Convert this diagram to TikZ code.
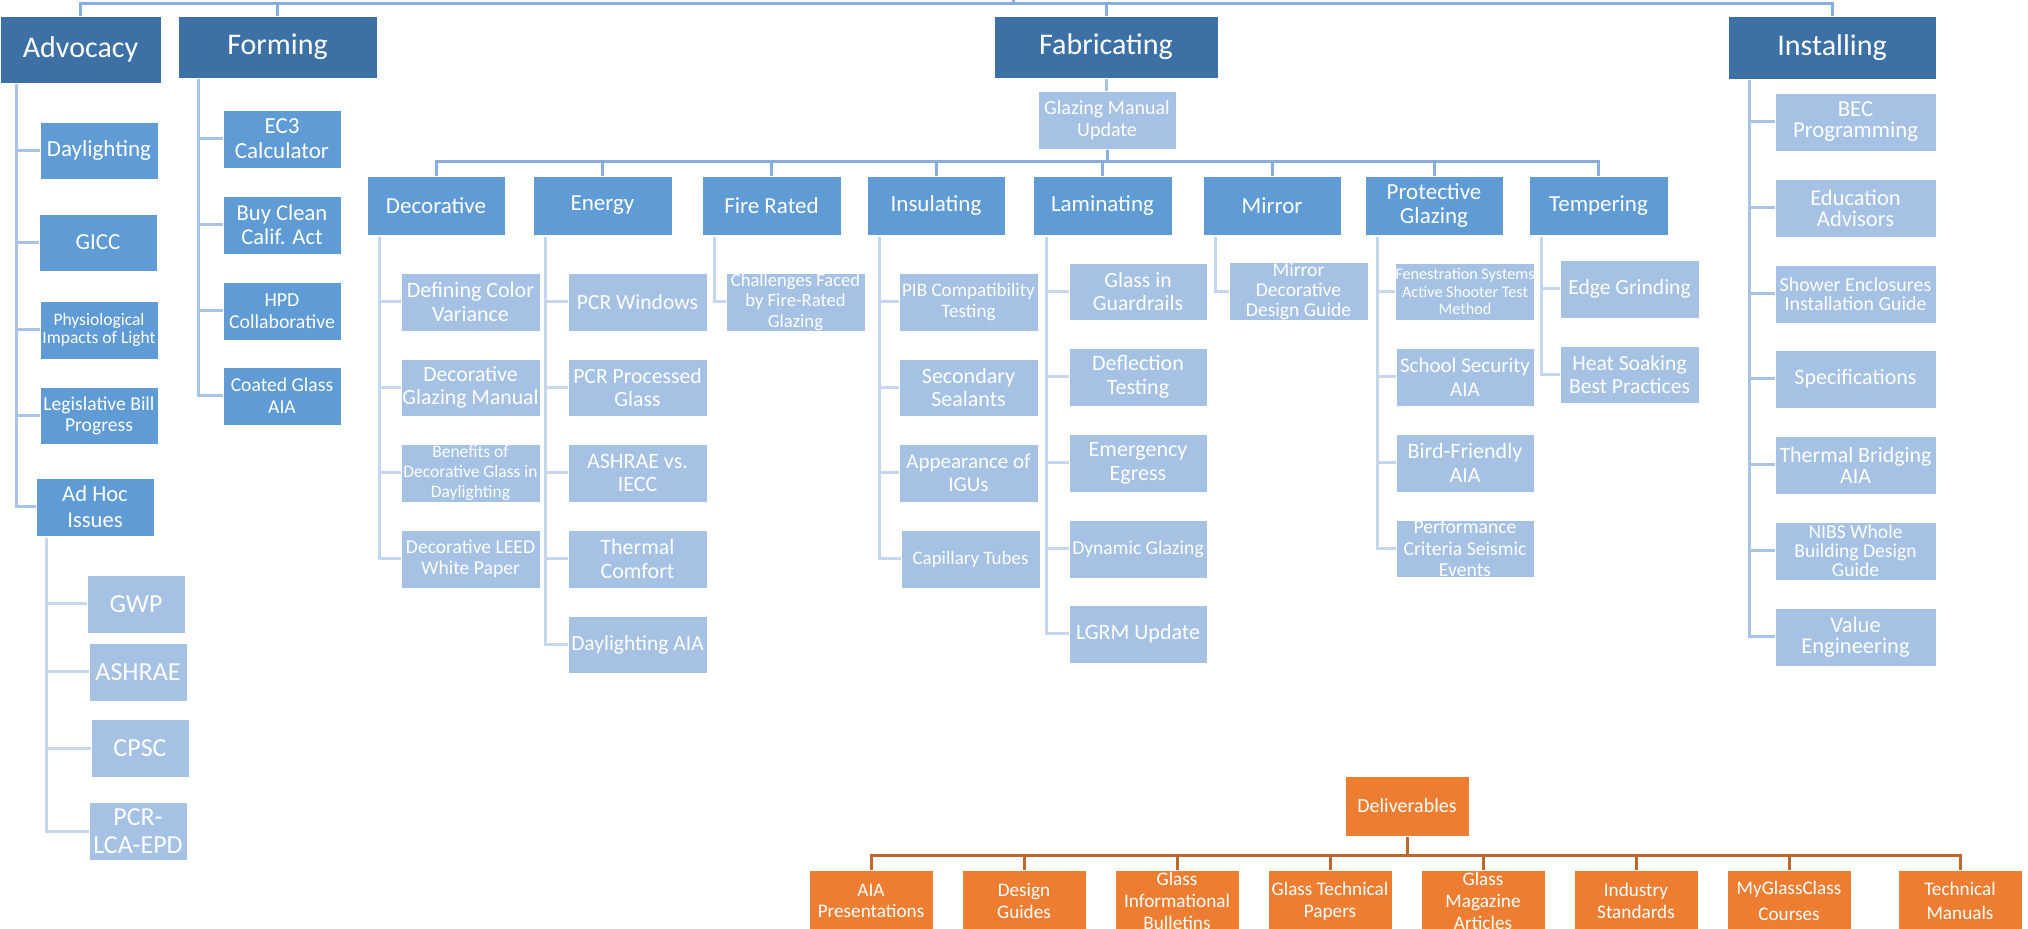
\documentclass[tikz,border=0pt]{standalone}
\usepackage{fontspec}
\setmainfont{Carlito}
\usetikzlibrary{backgrounds}
\definecolor{dk}{HTML}{3D71A5}
\definecolor{md}{HTML}{5F9BD5}
\definecolor{lt}{HTML}{A5C1E4}
\definecolor{lnA}{HTML}{86AEDF}
\definecolor{lnB}{HTML}{A7C4E8}
\definecolor{lnC}{HTML}{C5D7EF}
\definecolor{orf}{HTML}{ED7D31}
\definecolor{orl}{HTML}{C0682B}
\newcommand\mybox[7]{\node[#1, minimum width={(#5-#3)*0.5pt}, minimum height={(#6-#4)*0.5pt}] (#2) at ({(#3+#5)/2},{(#4+#6)/2}) {#7};}
\begin{document}
\begin{tikzpicture}[x=0.5pt,y=-0.5pt,
  box/.style={draw=white, line width=0.4pt, text=white, align=center, inner sep=0pt},
  fs/.style 2 args={font=\fontsize{#1}{#2}\selectfont},
  tone/.style={box, fill=dk, fs={15}{16.2}},
  ttwo/.style={box, fill=md, fs={11.5}{12.4}},
  mb/.style={box, fill=md, fs={11.5}{12.4}},
  lb/.style={box, fill=lt, fs={11}{11.9}},
  ob/.style={box, fill=orf, fs={9.6}{10.9}},
  cA/.style={draw=lnA, line width=1.5pt},
  cB/.style={draw=lnB, line width=1.5pt},
  cC/.style={draw=lnC, line width=1.5pt},
  cO/.style={draw=orl, line width=1.5pt}]
\useasboundingbox (0,0) rectangle (2028,929);

% ---- top level
\mybox{tone}{adv}{0}{16}{161}{83}{Advocacy}
\mybox{tone}{form}{178}{16}{377}{78}{Forming}
\mybox{tone}{fab}{994}{16}{1218}{78}{Fabricating}
\mybox{tone}{inst}{1728}{16}{1936}{79}{Installing}

% ---- Advocacy
\mybox{mb}{a1}{40}{122}{158}{179}{Daylighting}
\mybox{mb}{a2}{39}{214}{157}{271}{GICC}
\mybox{mb,fs={8.75}{9.4}}{a3}{40}{301}{158}{359}{Physiological\\Impacts of Light}
\mybox{mb,fs={9.8}{10.6}}{a4}{40}{387}{158}{444}{Legislative Bill\\Progress}
\mybox{mb,fs={11.3}{12.8}}{a5}{36}{478}{154}{536}{Ad Hoc\\Issues}
\mybox{lb,fs={13}{14}}{h1}{87}{575}{185}{633}{GWP}
\mybox{lb,fs={13}{14}}{h2}{89}{643}{187}{701}{ASHRAE}
\mybox{lb,fs={13}{14}}{h3}{91}{719}{189}{777}{CPSC}
\mybox{lb,fs={13}{14}}{h4}{89}{802}{187}{860}{PCR-\\LCA-EPD}

% ---- Forming
\mybox{mb}{f1}{223}{110}{341}{168}{EC3\\Calculator}
\mybox{mb,fs={11.3}{12.2}}{f2}{223}{196}{341}{254}{Buy Clean\\Calif. Act}
\mybox{mb,fs={9.9}{11}}{f3}{223}{282}{341}{340}{HPD\\Collaborative}
\mybox{mb,fs={9.8}{11}}{f4}{223}{367}{341}{425}{Coated Glass\\AIA}

% ---- Fabricating
\mybox{lb,fs={10}{10.8}}{gmu}{1038}{91}{1176}{149}{Glazing Manual\\Update}
\mybox{ttwo}{dec}{367}{176}{505}{235}{Decorative}
\mybox{ttwo}{ene}{533}{176}{672}{235}{Energy}
\mybox{ttwo}{fir}{702}{176}{841}{235}{Fire Rated}
\mybox{ttwo}{ins}{867}{176}{1005}{235}{Insulating}
\mybox{ttwo}{lam}{1033}{176}{1172}{235}{Laminating}
\mybox{ttwo}{mir}{1203}{176}{1341}{235}{Mirror}
\mybox{ttwo}{pro}{1365}{176}{1503}{235}{Protective\\Glazing}
\mybox{ttwo}{tem}{1529}{176}{1668}{235}{Tempering}

\mybox{lb}{d1}{401}{273}{540}{331}{Defining Color\\Variance}
\mybox{lb,fs={10.85}{11.7}}{d2}{401}{359}{540}{416}{Decorative\\Glazing Manual}
\mybox{lb,fs={8.75}{9.9}}{d3}{401}{444}{540}{502}{Benefits of\\Decorative Glass in\\Daylighting}
\mybox{lb,fs={9.8}{10.6}}{d4}{401}{530}{540}{588}{Decorative LEED\\White Paper}

\mybox{lb,fs={10.8}{11.7}}{e1}{568}{273}{707}{331}{PCR Windows}
\mybox{lb,fs={10.85}{11.7}}{e2}{568}{359}{707}{416}{PCR Processed\\Glass}
\mybox{lb}{e3}{568}{444}{707}{502}{ASHRAE vs.\\IECC}
\mybox{lb}{e4}{568}{530}{707}{588}{Thermal\\Comfort}
\mybox{lb,fs={10.75}{11.6}}{e5}{568}{616}{707}{673}{Daylighting AIA}

\mybox{lb,fs={9.3}{10.1}}{r1}{726}{273}{865}{331}{Challenges Faced\\by Fire-Rated\\Glazing}

\mybox{lb,fs={9.55}{10.5}}{i1}{899}{273}{1038}{331}{PIB Compatibility\\Testing}
\mybox{lb}{i2}{899}{359}{1038}{416}{Secondary\\Sealants}
\mybox{lb,fs={10.5}{11.6}}{i3}{899}{444}{1038}{502}{Appearance of\\IGUs}
\mybox{lb,fs={9.5}{10.3}}{i4}{901}{530}{1040}{588}{Capillary Tubes}

\mybox{lb,fs={10.85}{11.7}}{l1}{1069}{263}{1207}{320}{Glass in\\Guardrails}
\mybox{lb}{l2}{1069}{348}{1207}{406}{Deflection\\Testing}
\mybox{lb}{l3}{1069}{434}{1207}{492}{Emergency\\Egress}
\mybox{lb,fs={9.8}{10.6}}{l4}{1069}{520}{1207}{578}{Dynamic Glazing}
\mybox{lb}{l5}{1069}{605}{1207}{663}{LGRM Update}

\mybox{lb,fs={9.8}{10.1}}{m1}{1229}{263}{1368}{320}{Mirror\\Decorative\\Design Guide}

\mybox{lb,fs={8.1}{8.7}}{p1}{1396}{263}{1534}{320}{Fenestration Systems\\Active Shooter Test\\Method}
\mybox{lb,fs={10.5}{12}}{p2}{1396}{348}{1534}{406}{School Security\\AIA}
\mybox{lb}{p3}{1396}{434}{1534}{492}{Bird-Friendly\\AIA}
\mybox{lb,fs={9.85}{10.8}}{p4}{1396}{520}{1534}{577}{Performance\\Criteria Seismic\\Events}

\mybox{lb,fs={10.8}{11.7}}{tm1}{1560}{260}{1699}{318}{Edge Grinding}
\mybox{lb,fs={10.8}{11.7}}{tm2}{1560}{346}{1699}{403}{Heat Soaking\\Best Practices}

% ---- Installing
\mybox{lb,fs={11.4}{10.5}}{n1}{1775}{93}{1936}{151}{BEC\\Programming}
\mybox{lb,fs={11.25}{10.5}}{n2}{1775}{179}{1936}{237}{Education\\Advisors}
\mybox{lb,fs={9.95}{9.4}}{n3}{1775}{265}{1936}{323}{Shower Enclosures\\Installation Guide}
\mybox{lb}{n4}{1775}{350}{1936}{408}{Specifications}
\mybox{lb,fs={10.95}{10.5}}{n5}{1775}{436}{1936}{494}{Thermal Bridging\\AIA}
\mybox{lb,fs={9.8}{9.4}}{n6}{1775}{522}{1936}{580}{NIBS Whole\\Building Design\\Guide}
\mybox{lb,fs={11.25}{10.5}}{n7}{1775}{608}{1936}{666}{Value\\Engineering}

% ---- Deliverables
\mybox{ob,fs={10}{11}}{del}{1345}{776}{1469}{836}{Deliverables}
\mybox{ob}{o1}{809}{870}{933}{932}{AIA\\Presentations}
\mybox{ob}{o2}{962}{870}{1086}{932}{Design\\Guides}
\mybox{ob}{o3}{1115}{870}{1239}{932}{Glass\\Informational\\Bulletins}
\mybox{ob}{o4}{1268}{870}{1392}{932}{Glass Technical\\Papers}
\mybox{ob}{o5}{1421}{870}{1545}{932}{Glass\\Magazine\\Articles}
\mybox{ob}{o6}{1574}{870}{1698}{932}{Industry\\Standards}
\mybox{ob,fs={9.6}{13}}{o7}{1727}{870}{1851}{932}{MyGlassClass\\Courses}
\mybox{ob,fs={9.6}{11.6}}{o8}{1898}{870}{2022}{932}{Technical\\Manuals}

% ---- connectors
\coordinate (bus) at (0,4);
\coordinate (root) at (1013,0);
\coordinate (fbus) at (0,162);
\coordinate (dbus) at (0,855);
\begin{scope}[on background layer]
\draw[cA] (adv.north) |- (inst.north |- bus) -- (inst.north);
\draw[cA] (form.north) -- (form.north |- bus);
\draw[cA] (fab.north) -- (fab.north |- bus);
\draw[cA] (root) -- (root |- bus);
\draw[cB] (fab.south) -- (fab.south |- gmu.north);
\draw[cA] (gmu.south) -- (gmu.south |- fbus);
\draw[cA] (dec.north) |- (tem.north |- fbus) -- (tem.north);
\foreach \n in {ene,fir,ins,lam,mir,pro} \draw[cA] (\n.north) -- (\n.north |- fbus);
\foreach \p/\o/\k in {adv/17/{a1,a2,a3,a4,a5}, form/21/{f1,f2,f3,f4}, inst/22/{n1,n2,n3,n4,n5,n6,n7}}
  {\foreach \c in \k \draw[cB] (\p.south west) ++(\o,0) |- (\c.west);}
\foreach \p/\o/\k in {a5/11/{h1,h2,h3,h4}, dec/13/{d1,d2,d3,d4}, ene/13/{e1,e2,e3,e4,e5}, fir/13/{r1}, ins/13/{i1,i2,i3,i4}, lam/14/{l1,l2,l3,l4,l5}, mir/13/{m1}, pro/13/{p1,p2,p3,p4}, tem/13/{tm1,tm2}}
  {\foreach \c in \k \draw[cC] (\p.south west) ++(\o,2) |- (\c.west);}
\draw[cO] (del.south) -- (del.south |- dbus);
\draw[cO] (o1.north) |- (o8.north |- dbus) -- (o8.north);
\foreach \n in {o2,o3,o4,o5,o6,o7} \draw[cO] (\n.north) -- (\n.north |- dbus);
\end{scope}
\end{tikzpicture}
\end{document}
